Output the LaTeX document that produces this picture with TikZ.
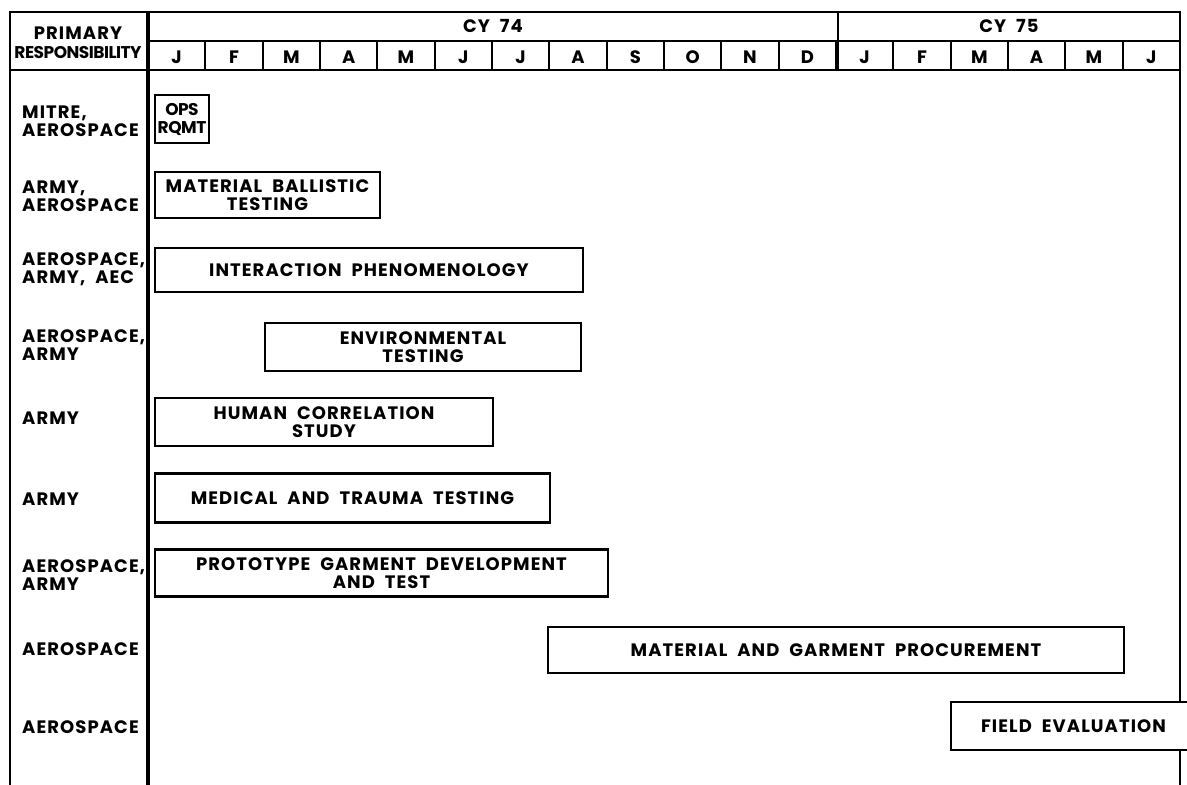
\documentclass[tikz,border=0pt]{standalone}
\usepackage{fontspec}
\setmainfont{Poppins}[LetterSpace=6]
\newcommand\widespace{\spaceskip=10pt\relax}

\begin{document}
\begin{tikzpicture}[x=1pt, y=-1pt,
  font=\fontsize{18}{18.5}\selectfont\bfseries\widespace,
  frame/.style={line width=2.8pt},
  monthline/.style={line width=2pt},
  bar/.style={draw, line width=2.6pt, fill=white, align=center, inner sep=0pt,
    outer sep=0pt, anchor=west, minimum height=47pt},
  who/.style={anchor=west, align=left, inner sep=0pt}]
\useasboundingbox[fill=white] (0,0) rectangle (1187,785);
% frame and header
\coordinate (TL) at (10,12);
\coordinate (TR) at (1180,12);
\coordinate (BL) at (10,785);
\coordinate (BR) at (1180,785);
\draw[frame] (BL) -- (TL) -- (TR) -- (BR);
\draw[frame] (10,70) -- (1180,70);
\draw[frame] (148,41) -- (1180,41);
\draw[line width=3.8pt] (148,12) -- (148,785);
\draw[frame] (838,12) -- (838,70);
\foreach \i in {1,...,17}
  \draw[monthline] ({148+\i*57.33},41) -- ({148+\i*57.33},70);
\foreach \m [count=\i] in {J,F,M,A,M,J,J,A,S,O,N,D,J,F,M,A,M,J}
  \node (m\i) at ({148+(\i-0.5)*57.33},57) {\m};
\node (cy74) at (493,26) {CY 74};
\node (cy75) at (1009,26) {CY 75};
\node (primary) at (78,33) {PRIMARY};
\node[font=\fontsize{17}{18}\selectfont\bfseries\addfontfeatures{LetterSpace=-3}] (resp) at (78,53) {RESPONSIBILITY};
% who is responsible
\node[who] (who1) at (22,121) {MITRE,\\AEROSPACE};
\node[who] (who2) at (22,196) {ARMY,\\AEROSPACE};
\node[who] (who3) at (22,269) {AEROSPACE,\\ARMY, AEC};
\node[who] (who4) at (22,345) {AEROSPACE,\\ARMY};
\node[who] (who5) at (22,418) {ARMY};
\node[who] (who6) at (22,499) {ARMY};
\node[who] (who7) at (22,575) {AEROSPACE,\\ARMY};
\node[who] (who8) at (22,649) {AEROSPACE};
\node[who] (who9) at (22,727) {AEROSPACE};
% tasks
\node[bar, minimum width=54pt, minimum height=48pt,
  font=\fontsize{17}{18}\selectfont\bfseries\addfontfeatures{LetterSpace=-3}] (ops) at (155,119) {OPS\\RQMT};
\node[bar, minimum width=225pt, minimum height=46pt] (ballistic) at (155,195) {MATERIAL BALLISTIC\\TESTING};
\node[bar, minimum width=428pt, minimum height=44pt] (interaction) at (155,270) {INTERACTION PHENOMENOLOGY};
\node[bar, minimum width=316pt, minimum height=48pt] (environment) at (265,347) {ENVIRONMENTAL\\TESTING};
\node[bar, minimum width=338pt, minimum height=48pt] (human) at (155,422) {HUMAN CORRELATION\\STUDY};
\node[bar, minimum width=395pt, minimum height=49pt] (medical) at (155,498) {MEDICAL AND TRAUMA TESTING};
\node[bar, minimum width=453pt] (prototype) at (155,573) {PROTOTYPE GARMENT DEVELOPMENT\\AND TEST};
\node[bar, minimum width=576pt, minimum height=46pt] (procurement) at (548,650) {MATERIAL AND GARMENT PROCUREMENT};
\node[bar, minimum width=250pt, minimum height=48pt] (field) at (951,726) {FIELD EVALUATION\hspace{5pt}};
\end{tikzpicture}
\end{document}
